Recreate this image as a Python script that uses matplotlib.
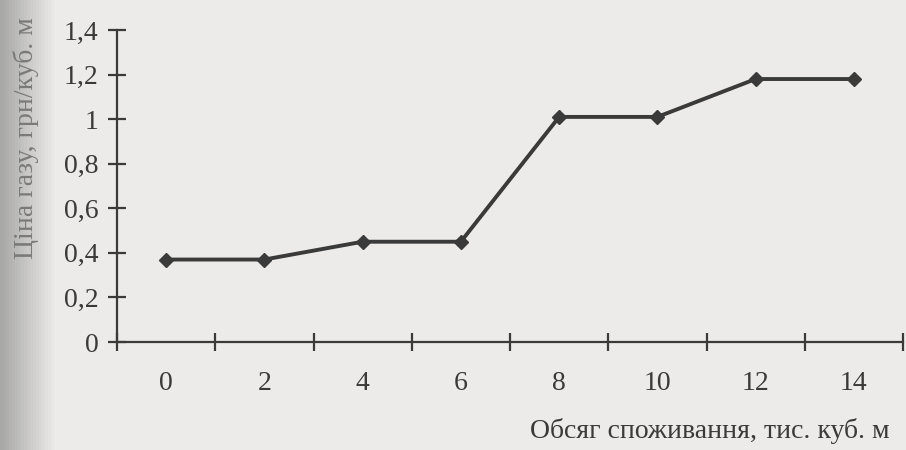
import numpy as np
import matplotlib
matplotlib.use("Agg")
import matplotlib.pyplot as plt

# data
volume = [0, 2, 4, 6, 8, 10, 12, 14]
price = [0.37, 0.37, 0.45, 0.45, 1.01, 1.01, 1.18, 1.18]

y_ticks = [0, 0.2, 0.4, 0.6, 0.8, 1.0, 1.2, 1.4]
y_labels = ["0", "0,2", "0,4", "0,6", "0,8", "1", "1,2", "1,4"]
x_bounds = [-1, 1, 3, 5, 7, 9, 11, 13, 15]   # category boundaries (tick marks)

x_title = "Обсяг споживання, тис. куб. м"
y_title = "Ціна газу, грн/куб. м"

paper = "#ecebe9"
ink = "#3a3a3a"

plt.rcParams["font.family"] = ["Liberation Serif", "DejaVu Serif"]

fig = plt.figure(figsize=(9.06, 4.5), dpi=100, facecolor=paper)

# darker shading along the left edge of the scanned page
bg = fig.add_axes([0, 0, 1, 1], zorder=-1)
grad = np.linspace(0, 1, 300)
shade = np.clip(grad / 0.06, 0, 1)
bg.imshow(shade[None, :], extent=[0, 1, 0, 1], aspect="auto",
          cmap=matplotlib.colors.LinearSegmentedColormap.from_list("p", ["#a8a8a6", paper]))
bg.set_axis_off()

ax = fig.add_axes([117 / 906, 108 / 450, 786 / 906, 312 / 450])
ax.set_facecolor("none")

ax.plot(volume, price, color=ink, lw=2.8, marker="D", ms=7,
        markerfacecolor=ink, markeredgecolor=ink, clip_on=False)

ax.set_xlim(x_bounds[0], x_bounds[-1])
ax.set_ylim(0, 1.4)

for s in ["top", "right"]:
    ax.spines[s].set_visible(False)
for s in ["left", "bottom"]:
    ax.spines[s].set_color(ink)
    ax.spines[s].set_linewidth(1.6)

ax.set_xticks(x_bounds)
ax.set_xticklabels([])
ax.set_xticks(volume, minor=True)
ax.set_xticklabels([str(v) for v in volume], minor=True)
ax.tick_params(axis="x", which="major", direction="inout", length=13, width=1.6, color=ink)
ax.tick_params(axis="x", which="minor", length=0, pad=21, labelsize=20, labelcolor=ink)

ax.set_yticks(y_ticks)
ax.set_yticklabels(y_labels)
ax.tick_params(axis="y", direction="inout", length=13, width=1.6, color=ink,
               pad=7, labelsize=20, labelcolor=ink)

fig.text(890 / 906, 12 / 450, x_title, ha="right", va="baseline",
         fontsize=20, color=ink)
fig.text(26 / 906, 312 / 450, y_title, ha="center", va="center",
         rotation=90, fontsize=20, color="#7a7a7a")

fig.savefig("out.png", dpi=100, facecolor=paper)
